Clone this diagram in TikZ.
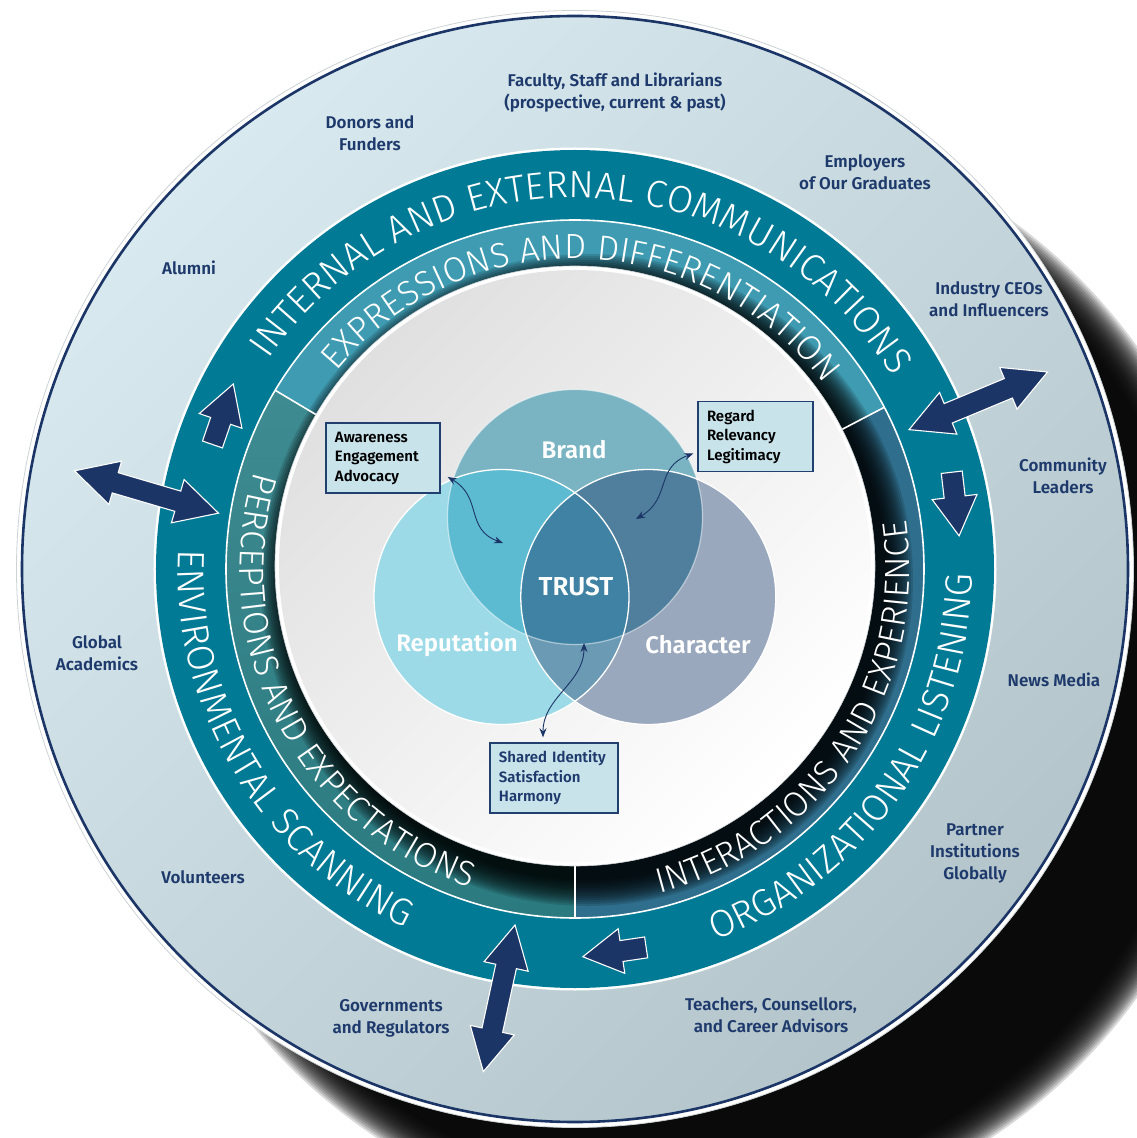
\documentclass[tikz,border=0pt]{standalone}
\usepackage{fontspec}
\setmainfont{Fira Sans}
\IfFontExistsTF{Fira Sans Book}{\newfontfamily\ringfont{Fira Sans Book}}{%
  \IfFontExistsTF{Fira Sans Light}{\newfontfamily\ringfont{Fira Sans Light}}{\newfontfamily\ringfont{Fira Sans}}}
\IfFontExistsTF{Fira Sans SemiBold}{\newfontfamily\labelfont{Fira Sans SemiBold}}{\newfontfamily\labelfontx{Fira Sans}\newcommand\labelfont{\labelfontx\bfseries}}
\usetikzlibrary{shapes.arrows,decorations.text,arrows.meta}

\definecolor{navy}{HTML}{1C3567}
\definecolor{labelnavy}{HTML}{1E3A6C}
\definecolor{rimgray}{HTML}{CDD2D5}
\definecolor{ringlight}{HTML}{D8E9EF}
\definecolor{ringdark}{HTML}{B3C5CA}
\definecolor{ringteal}{HTML}{007A95}
\definecolor{segtop}{HTML}{3F9BB1}
\definecolor{segleft}{HTML}{3E8B91}
\definecolor{segleftdark}{HTML}{2A7A80}
\definecolor{segright}{HTML}{2F6E8C}
\definecolor{disklight}{HTML}{E0E0E0}
\definecolor{brandc}{HTML}{7AB4C3}
\definecolor{repc}{HTML}{9DDAE8}
\definecolor{charc}{HTML}{9AA8BE}
\definecolor{brandrep}{HTML}{5DBBD1}
\definecolor{brandchar}{HTML}{4F7F9D}
\definecolor{repchar}{HTML}{6A9AB4}
\definecolor{trustc}{HTML}{3F82A3}
\definecolor{boxfill}{HTML}{C9E3EB}
\definecolor{boxline}{HTML}{22406F}

\tikzset{
  stake/.style={font={\labelfont\fontsize{17}{22}\selectfont}, text=labelnavy, align=center, inner sep=0pt},
  venn/.style={circle, minimum size=255pt, inner sep=0pt},
  venntext/.style={font={\labelfont\fontsize{24}{24}\selectfont}, text=white, inner sep=0pt},
  infobox/.style={draw=boxline, fill=boxfill, line width=1.4pt, inner xsep=9pt, inner ysep=0pt,
    minimum height=70pt, align=left, font={\labelfont\fontsize{15}{19.5}\selectfont}},
  link/.style={draw=navy, line width=0.9pt, <->, >={Stealth[length=9pt,width=7pt]}},
  dblarrow/.style={double arrow, fill=navy, draw=white, line width=1.1pt, inner sep=10pt,
    double arrow head extend=12pt, double arrow tip angle=56, minimum height=150pt, minimum width=44pt},
  onearrow/.style={single arrow, fill=navy, draw=white, line width=1.1pt, inner sep=10pt, anchor=tail,
    single arrow head extend=12pt, single arrow tip angle=60, minimum height=64pt, minimum width=44pt},
  ringtext/.style={decorate, decoration={text along path, text align=center, text color=white}}
}

\begin{document}
\begin{tikzpicture}[x=1pt,y=1pt]
\useasboundingbox (-575,-569) rectangle (562,569);
\clip (-575,-569) rectangle (562,569);

% shadow under the disc
\foreach \r in {558,556,...,520}
  \fill[black,opacity=0.15] (109,-103) circle[radius=\r pt];

% outer ring of stakeholders
\fill[white, draw=rimgray, line width=0.8pt] (0,0) circle[radius=558.5pt];
\shade[top color=ringlight, bottom color=ringdark, shading angle=45] (0,0) circle[radius=553pt];
\draw[navy, line width=2.6pt] (0,0) circle[radius=553pt];

% communication ring
\fill[white] (0,0) circle[radius=421.5pt];
\fill[ringteal] (0,0) circle[radius=419pt];

% inner segments
\fill[segtop] (0,0) -- (27.6:349pt) arc[start angle=27.6, end angle=149.2, radius=349pt] -- cycle;
\shade[top color=segleft, bottom color=segleftdark] (0,0) -- (149.2:349pt) arc[start angle=149.2, end angle=270, radius=349pt] -- cycle;
\fill[segright] (0,0) -- (270:349pt) arc[start angle=270, end angle=387.6, radius=349pt] -- cycle;
\begin{scope}
\clip (0,0) circle[radius=348pt];
\foreach \r in {326,324,...,300}
  \fill[black,opacity=0.13] (12,-11) circle[radius=\r pt];
\end{scope}
\draw[white, line width=1.6pt] (0,0) circle[radius=349pt];
\foreach \a in {27.6,149.2,270}
  \draw[white, line width=1.6pt] (\a:296pt) -- (\a:349pt);

% centre disc
\fill[white, draw=rimgray, line width=0.6pt] (0,3) circle[radius=300pt];
\shade[top color=disklight, bottom color=white, shading angle=45] (0,3) circle[radius=296pt];

% venn
\node[venn, fill=brandc] (brand) at (0,52) {};
\node[venn, fill=repc] (rep) at (-73.5,-28) {};
\node[venn, fill=charc] (char) at (73.3,-28) {};
\begin{scope}
\clip (brand.center) circle[radius=127.5pt];
\fill[brandrep] (rep.center) circle[radius=127.5pt];
\fill[brandchar] (char.center) circle[radius=127.5pt];
\end{scope}
\begin{scope}
\clip (rep.center) circle[radius=127.5pt];
\fill[repchar] (char.center) circle[radius=127.5pt];
\clip (brand.center) circle[radius=127.5pt];
\fill[trustc] (char.center) circle[radius=127.5pt];
\end{scope}
\draw[white, opacity=0.5, line width=1.2pt] (brand.center) circle[radius=127.5pt];
\draw[white, line width=1.3pt] (rep.center) circle[radius=127.5pt];
\draw[white, line width=1.3pt] (char.center) circle[radius=127.5pt];

\node[venntext] (brandlabel) at (-1,119) {Brand};
\node[venntext, font={\labelfont\fontsize{26}{26}\selectfont}] (trust) at (1,-18) {TRUST};
\node[venntext] (replabel) at (-118,-76) {Reputation};
\node[venntext] (charlabel) at (123,-76) {Character};

% ring texts
\path[ringtext, decoration={text={|\ringfont\fontsize{38}{38}\selectfont|INTERNAL AND EXTERNAL COMMUNICATIONS}}]
  (163.5:371pt) arc[start angle=163.5, end angle=13.5, radius=371pt];
\path[ringtext, decoration={text={|\ringfont\fontsize{38}{38}\selectfont|ENVIRONMENTAL SCANNING}}]
  (151:397pt) arc[start angle=151, end angle=271, radius=397pt];
\path[ringtext, decoration={text={|\ringfont\fontsize{38}{38}\selectfont|ORGANIZATIONAL LISTENING}}]
  (265:397pt) arc[start angle=265, end angle=385, radius=397pt];
\path[ringtext, decoration={text={|\ringfont\fontsize{35}{35}\selectfont|EXPRESSIONS AND DIFFERENTIATION}}]
  (158.5:310pt) arc[start angle=158.5, end angle=18.5, radius=310pt];
\path[ringtext, decoration={text={|\ringfont\fontsize{35}{35}\selectfont|PERCEPTIONS AND EXPECTATIONS}}]
  (147.5:335pt) arc[start angle=147.5, end angle=267.5, radius=335pt];
\path[ringtext, decoration={text={|\ringfont\fontsize{35}{35}\selectfont|INTERACTIONS AND EXPERIENCE}}]
  (266.5:335pt) arc[start angle=266.5, end angle=386.5, radius=335pt];

% flow arrows
\node[dblarrow, rotate=-16.4] (scanarrow) at (-428.5,77) {};
\node[dblarrow, rotate=22.6] (commarrow) at (403.3,168.2) {};
\node[dblarrow, rotate=77.8] (govarrow) at (-75.8,-429.3) {};
\node[onearrow, rotate=71] (uparrow) at (-362.7,124) {};
\node[onearrow, rotate=-83.4] (downarrow) at (376.7,97.3) {};
\node[onearrow, rotate=188.4] (leftarrow) at (71.7,-378.3) {};

% stakeholders
\node[stake] (faculty) at (40,476) {Faculty, Staff and Librarians\\(prospective, current \& past)};
\node[stake] (donors) at (-205,436) {Donors and\\Funders};
\node[stake] (employers) at (290,397) {Employers\\of Our Graduates};
\node[stake] (alumni) at (-386,301) {Alumni};
\node[stake] (industry) at (414,270) {Industry CEOs\\and Influencers};
\node[stake] (community) at (488,93) {Community\\Leaders};
\node[stake] (academics) at (-478,-84) {Global\\Academics};
\node[stake] (news) at (479,-111) {News Media};
\node[stake] (partner) at (400,-284) {Partner\\Institutions\\Globally};
\node[stake] (volunteers) at (-372,-308) {Volunteers};
\node[stake] (governments) at (-184,-449) {Governments\\and Regulators};
\node[stake] (teachers) at (196,-446) {Teachers, Counsellors,\\and Career Advisors};

% outcome boxes
\node[infobox, text width=96pt] (aware) at (-192,111) {Awareness\\Engagement\\Advocacy};
\node[infobox, text width=97pt] (regard) at (180.5,132.5) {Regard\\Relevancy\\Legitimacy};
\node[infobox, text width=110pt, text=labelnavy] (shared) at (-21,-209) {Shared Identity\\Satisfaction\\Harmony};

\coordinate (awaretip) at (-72,26);
\coordinate (regardtip) at (61,50);
\coordinate (sharedtip) at (9,-74);
\draw[link] ([xshift=7pt,yshift=-19pt]aware.east) to[out=-30,in=160,looseness=1.2] (awaretip);
\draw[link] ([xshift=-4pt,yshift=-17pt]regard.west) to[out=200,in=30,looseness=1.2] (regardtip);
\draw[link] ([xshift=-11pt,yshift=5pt]shared.north) to[out=90,in=-90] (sharedtip);
\end{tikzpicture}
\end{document}
